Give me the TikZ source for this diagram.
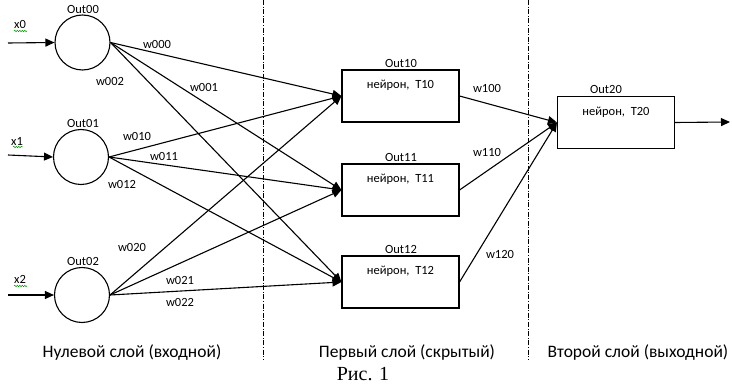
\documentclass[tikz,border=0pt]{standalone}
\usepackage{fontspec}
\setmainfont{Carlito}
\newfontfamily\timesf{Liberation Serif}
\usetikzlibrary{arrows.meta,decorations.pathmorphing}
\begin{document}
\begin{tikzpicture}[x=1pt,y=-1pt,
  every node/.style={font=\fontsize{12.5}{14}\selectfont},
  neuron/.style={circle,draw,line width=1.1pt,minimum size=55pt,inner sep=0pt},
  hbox/.style={rectangle,draw,line width=1.1pt,minimum width=117pt,inner sep=0pt,text height=19pt,text depth=33pt},
  conn/.style={line width=1.1pt,-{Triangle[length=9pt,width=8pt]}},
  layerline/.style={line width=0.8pt,dash pattern=on 5pt off 1.6pt on 1pt off 1.6pt},
  wlab/.style={inner sep=1pt},
  lay/.style={font=\fontsize{17.5}{20}\selectfont},
  wavy/.style={green!60!black,line width=0.5pt,decorate,decoration={snake,amplitude=0.7pt,segment length=2.5pt}}
]
\useasboundingbox (0,0) rectangle (732,385);

% layer separators
\draw[layerline] (263,0) -- (263,360);
\draw[layerline] (528,0) -- (528,360);

% input neurons
\node[neuron] (c0) at (82.5,42.5) {};
\node[neuron] (c1) at (81,157) {};
\node[neuron] (c2) at (82,295) {};
\node (lc0) at (83,9) {Out00};
\node (lc1) at (83,123) {Out01};
\node (lc2) at (83,261) {Out02};

% hidden neurons
\node[hbox] (b0) at (400.5,96) {нейрон,\ \ T10};
\node[hbox] (b1) at (400.5,190) {нейрон,\ \ T11};
\node[hbox] (b2) at (400.5,282) {нейрон,\ \ T12};
\node (lb0) at (401,63) {Out10};
\node (lb1) at (401,157) {Out11};
\node (lb2) at (401,249) {Out12};

% output neuron
\node[hbox] (o) at (616,122.5) {нейрон,\ \ T20};
\node (lo) at (606,89) {Out20};

% inputs
\coordinate (in0) at (8,43);
\coordinate (in1) at (8,155);
\coordinate (in2) at (8,295);
\draw[conn] (in0) -- (c0.west);
\draw[conn] (in1) -- (c1.west);
\draw[conn] (in2) -- (c2.west);
\node (x0) at (20,24) {x0};
\node (x1) at (17,141) {x1};
\node (x2) at (20,279) {x2};
\draw[wavy] (14,31) -- (27,31);
\draw[wavy] (13,147) -- (23,147);
\draw[wavy] (14,286) -- (27,286);

% layer 0 -> layer 1
\foreach \i in {0,1,2}{
  \foreach \j in {0,1,2}{
    \draw[conn] (c\i.east) -- (b\j.west);
  }
}
% layer 1 -> layer 2
\foreach \j in {0,1,2}{
  \draw[conn] (b\j.east) -- (o.west);
}
% output
\coordinate (outend) at (730,122);
\draw[conn] (o.east) -- (outend);

% weights
\node[wlab] (w000) at (157,44) {w000};
\node[wlab] (w002) at (110,81) {w002};
\node[wlab] (w001) at (204,87) {w001};
\node[wlab] (w010) at (137,136) {w010};
\node[wlab] (w011) at (164,156) {w011};
\node[wlab] (w012) at (122,184) {w012};
\node[wlab] (w020) at (132,247) {w020};
\node[wlab] (w021) at (180,280) {w021};
\node[wlab] (w022) at (180,302) {w022};
\node[wlab] (w100) at (487,88) {w100};
\node[wlab] (w110) at (487,152) {w110};
\node[wlab] (w120) at (500,254) {w120};

% layer titles
\node[lay] (t0) at (132,353) {Нулевой слой (входной)};
\node[lay] (t1) at (407,353) {Первый слой (скрытый)};
\node[lay] (t2) at (638,353) {Второй слой (выходной)};
\node (fig) at (363,374) {\timesf\fontsize{20}{22}\selectfont Рис. 1};
\end{tikzpicture}
\end{document}
